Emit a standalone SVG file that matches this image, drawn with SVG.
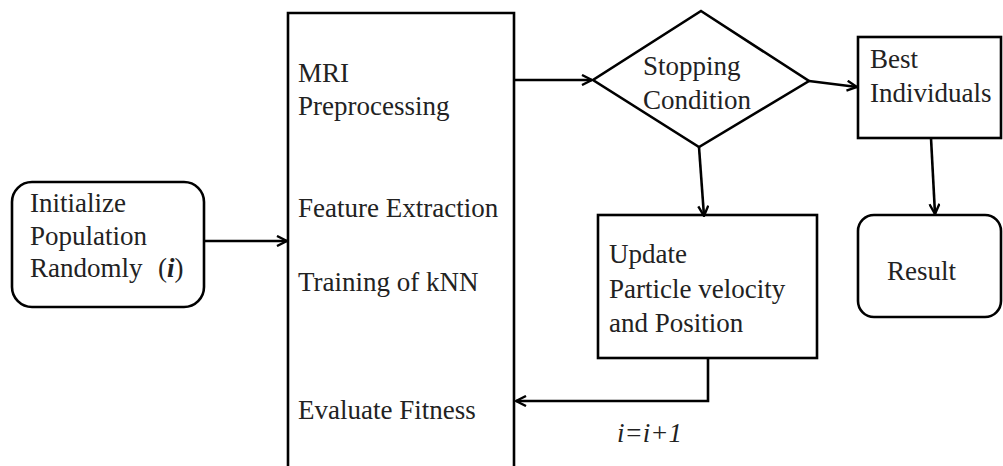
<svg xmlns="http://www.w3.org/2000/svg" width="1003" height="466" viewBox="0 0 1003 466">
<defs>
<marker id="ah" viewBox="0 0 12 12" refX="11" refY="6" markerWidth="12" markerHeight="12" markerUnits="userSpaceOnUse" orient="auto">
<path d="M1,1 L11,6 L1,11" fill="none" stroke="#000" stroke-width="2.4" stroke-linejoin="miter"/>
</marker>
</defs>
<style>
.s{fill:#fff;stroke:#000;stroke-width:2.6}
.t{font-size:27px;fill:#222}
.c{fill:none;stroke:#000;stroke-width:2.6;marker-end:url(#ah)}
</style>
<rect width="1003" height="466" fill="#fff"/>
<g font-family="'Liberation Serif', 'Times New Roman', 'DejaVu Serif', serif">
<g id="init">
<rect class="s" x="12" y="182" width="192" height="125" rx="20"/>
<text class="t" x="30" y="212">Initialize</text>
<text class="t" x="30" y="245">Population</text>
<text class="t" x="30" y="277">Randomly<tspan x="158">(</tspan><tspan font-weight="bold" font-style="italic">i</tspan>)</text>
</g>
<g id="process">
<path class="s" d="M288,470 L288,13 L514,13 L514,470"/>
<text class="t" x="298" y="82">MRI</text>
<text class="t" x="298" y="115">Preprocessing</text>
<text class="t" x="298" y="217">Feature Extraction</text>
<text class="t" x="298" y="291">Training of kNN</text>
<text class="t" x="298" y="419">Evaluate Fitness</text>
</g>
<g id="stop">
<polygon class="s" points="701,11 809,81 699,147 593,80"/>
<text class="t" x="643" y="75">Stopping</text>
<text class="t" x="643" y="109">Condition</text>
</g>
<g id="best">
<rect class="s" x="858" y="37" width="143" height="101"/>
<text class="t" x="870" y="68">Best</text>
<text class="t" x="870" y="102">Individuals</text>
</g>
<g id="update">
<rect class="s" x="598" y="215" width="219" height="143"/>
<text class="t" x="609" y="263">Update</text>
<text class="t" x="609" y="298">Particle velocity</text>
<text class="t" x="609" y="332">and Position</text>
</g>
<g id="result">
<rect class="s" x="858" y="215" width="143" height="102" rx="16"/>
<text class="t" x="887" y="280">Result</text>
</g>
<g id="connectors">
<path class="c" d="M204,241 L287,241"/>
<path class="c" d="M514,80 L592,80"/>
<path class="c" d="M809,81 L857,87"/>
<path class="c" d="M699,147 L704,216"/>
<path class="c" d="M931,138 L935,214"/>
<path class="c" d="M708,358 L708,401 L516,401"/>
<text class="t" x="617" y="442" font-style="italic">i=i+1</text>
</g>
</g>
</svg>
